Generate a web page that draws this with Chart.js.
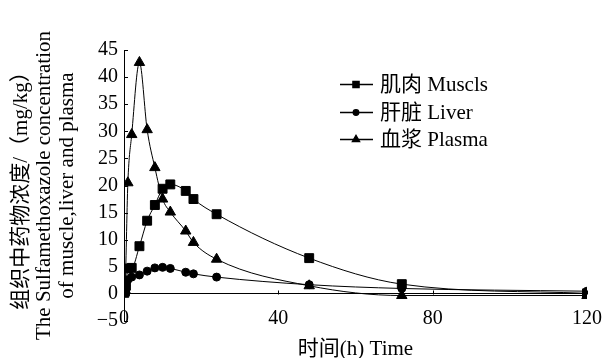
<!DOCTYPE html>
<html><head><meta charset="utf-8">
<script src="https://cdn.jsdelivr.net/npm/chart.js@4/dist/chart.umd.min.js"></script>
<style>html,body{margin:0;padding:0;background:#fff}#wrap{width:603px;height:358px;position:relative}</style>
</head><body><div id="wrap"><canvas id="c" width="603" height="358"></canvas></div>
<script>
const times  = [0.083, 0.25, 0.5, 1, 2, 4, 6, 8, 10, 12, 16, 18, 24, 48, 72, 120];
const muscle = [0.2, 0.6, 1.5, 4.7, 4.8, 8.8, 13.5, 16.4, 19.4, 20.2, 19.0, 17.5, 14.7, 6.6, 1.8, 0.1];
const liver  = [0.3, 0.8, 1.5, 2.6, 3.1, 3.5, 4.2, 4.8, 4.9, 4.7, 4.0, 3.7, 3.1, 1.7, 1.0, 0.5];
const plasma = [0.2, 0.8, null, 20.5, 29.4, 42.7, 30.3, 23.3, 17.5, 15.1, 11.6, 9.5, 6.4, 1.5, -0.3, -0.3];
const seriesNames = ['肌肉 Muscls', '肝脏 Liver', '血浆 Plasma'];
const xTicks = [0, 40, 80, 120];
const yTitle = ['组织中药物浓度/（mg/kg）', 'The Sulfamethoxazole concentration', 'of muscle,liver and plasma'];
const xTitle = '时间(h) Time';

const FONT = '"Liberation Serif", "Noto Sans CJK SC", serif';
const pts = arr => times.map((t, i) => ({x: t, y: arr[i]})).filter(p => p.y !== null);

const styles = [
  {pointStyle: 'rect', pointRadius: 6.3},
  {pointStyle: 'circle', pointRadius: 4},
  {pointStyle: 'triangle', pointRadius: 6}
];
const values = [muscle, liver, plasma];

const extras = {
  id: 'extras',
  afterDraw(chart) {
    const ctx = chart.ctx, xs = chart.scales.x, ys = chart.scales.y;
    ctx.save();
    ctx.strokeStyle = '#000'; ctx.lineWidth = 1;
    for (let v = -5; v <= 45; v += 5) {
      const py = Math.round(ys.getPixelForValue(v)) + 0.5;
      ctx.beginPath(); ctx.moveTo(xs.left, py); ctx.lineTo(xs.left + 4, py); ctx.stroke();
    }
    const y0 = Math.round(ys.getPixelForValue(0)) + 0.5;
    xTicks.forEach(t => {
      const px = Math.round(xs.getPixelForValue(t)) + 0.5;
      ctx.beginPath(); ctx.moveTo(px, y0); ctx.lineTo(px, y0 - 4); ctx.stroke();
    });
    ctx.font = '21px ' + FONT;
    ctx.textBaseline = 'middle'; ctx.textAlign = 'left'; ctx.fillStyle = '#000';
    const rows = [84, 112, 139];
    chart.data.datasets.forEach((ds, i) => {
      const y = rows[i];
      ctx.beginPath(); ctx.moveTo(340, y + 0.5); ctx.lineTo(373, y + 0.5); ctx.lineWidth = 1.3; ctx.stroke();
      Chart.helpers.drawPoint(ctx, {pointStyle: ds.pointStyle, radius: ds.pointRadius * 0.7, borderWidth: 1}, 356, y + 0.5);
      ctx.fillText(seriesNames[i], 380, y + 1);
    });
    ctx.restore();
  }
};

new Chart(document.getElementById('c'), {
  type: 'line',
  data: {
    datasets: values.map((arr, i) => ({
      label: seriesNames[i],
      data: pts(arr),
      borderColor: '#000', backgroundColor: '#000', borderWidth: 1,
      pointStyle: styles[i].pointStyle, pointRadius: styles[i].pointRadius,
      pointBackgroundColor: '#000', pointBorderColor: '#000',
      cubicInterpolationMode: 'monotone', fill: false
    }))
  },
  options: {
    responsive: false, animation: false,
    layout: {padding: {top: 50, right: 16, left: 0, bottom: 0}},
    plugins: {legend: {display: false}, tooltip: {enabled: false}},
    scales: {
      x: {
        type: 'linear', min: 0, max: 120,
        afterBuildTicks: s => { s.ticks = xTicks.map(v => ({value: v})); },
        grid: {display: false, drawTicks: false},
        border: {display: false},
        ticks: {color: '#000', font: {family: FONT, size: 20}, padding: -10, mirror: true, maxRotation: 0},
        title: {display: true, text: xTitle, color: '#000', font: {family: FONT, size: 21, lineHeight: 0.8}, padding: {top: 0, bottom: 0}},
        afterFit: s => { s.height = 37; s.paddingLeft = 0; s.paddingRight = 0; }
      },
      y: {
        min: -5, max: 45,
        ticks: {stepSize: 5, color: '#000', font: {family: FONT, size: 20}, padding: 6,
          callback: v => String(v).replace('-', '−')},
        grid: {drawTicks: false, color: ctx => ctx.tick && ctx.tick.value === 0 ? '#000' : 'rgba(0,0,0,0)', lineWidth: 1},
        border: {display: true, color: '#000', width: 1},
        title: {display: true, text: yTitle, color: '#000', font: {family: FONT, size: 21, lineHeight: 1.1}, padding: {top: 10, bottom: 4}},
        afterFit: s => { s.width = 124; }
      }
    }
  },
  plugins: [extras]
});
</script></body></html>
